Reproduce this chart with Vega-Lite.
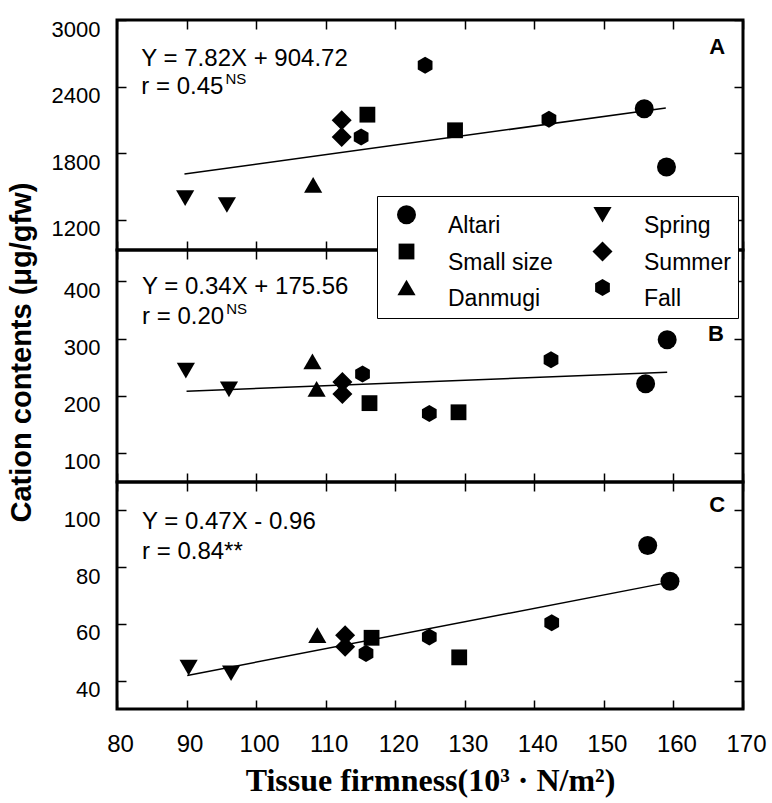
{
  "$schema": "https://vega.github.io/schema/vega-lite/v6.json",
  "padding": {"left": 5, "top": 16, "right": 5, "bottom": 2},
  "background": "white",
  "config": {
    "font": "Liberation Sans",
    "view": {"stroke": "black", "strokeWidth": 3},
    "axis": {
      "grid": false, "domain": false, "tickColor": "black", "tickSize": -9, "tickWidth": 1.5,
      "labelFont": "Liberation Sans", "labelFontSize": 22, "labelColor": "black",
      "labelPadding": 26, "labelFlush": false, "labelOverlap": false, "titleColor": "black", "format": "d"
    },
    "legend": {
      "title": null, "orient": "none", "legendX": 260, "legendY": 176, "columns": 2, "direction": "vertical",
      "fillColor": "white", "strokeColor": "black", "padding": 7, "symbolOffset": 11,
      "labelFontSize": 23, "labelFont": "Liberation Sans", "labelColor": "black", "labelOffset": 30, "labelBaseline": "top",
      "columnPadding": 27, "rowPadding": 0,
      "symbolFillColor": "black", "symbolStrokeColor": "black"
    }
  },
  "datasets": {
    "pts": [
      {"panel": "A", "firmness": 89.8, "cation": 1394, "group": "Spring"},
      {"panel": "A", "firmness": 95.8, "cation": 1331, "group": "Spring"},
      {"panel": "A", "firmness": 108.2, "cation": 1512, "group": "Danmugi"},
      {"panel": "A", "firmness": 112.3, "cation": 2095, "group": "Summer"},
      {"panel": "A", "firmness": 112.3, "cation": 1945, "group": "Summer"},
      {"panel": "A", "firmness": 115.1, "cation": 1945, "group": "Fall"},
      {"panel": "A", "firmness": 116.0, "cation": 2146, "group": "Small size"},
      {"panel": "A", "firmness": 124.3, "cation": 2591, "group": "Fall"},
      {"panel": "A", "firmness": 128.6, "cation": 2005, "group": "Small size"},
      {"panel": "A", "firmness": 142.1, "cation": 2104, "group": "Fall"},
      {"panel": "A", "firmness": 155.8, "cation": 2200, "group": "Altari"},
      {"panel": "A", "firmness": 159.0, "cation": 1674, "group": "Altari"},
      {"panel": "B", "firmness": 89.9, "cation": 244, "group": "Spring"},
      {"panel": "B", "firmness": 96.1, "cation": 211, "group": "Spring"},
      {"panel": "B", "firmness": 108.1, "cation": 260, "group": "Danmugi"},
      {"panel": "B", "firmness": 108.7, "cation": 212, "group": "Danmugi"},
      {"panel": "B", "firmness": 112.4, "cation": 224, "group": "Summer"},
      {"panel": "B", "firmness": 112.4, "cation": 203, "group": "Summer"},
      {"panel": "B", "firmness": 115.3, "cation": 238, "group": "Fall"},
      {"panel": "B", "firmness": 116.3, "cation": 187, "group": "Small size"},
      {"panel": "B", "firmness": 124.9, "cation": 169, "group": "Fall"},
      {"panel": "B", "firmness": 129.1, "cation": 171, "group": "Small size"},
      {"panel": "B", "firmness": 142.4, "cation": 263, "group": "Fall"},
      {"panel": "B", "firmness": 156.0, "cation": 221, "group": "Altari"},
      {"panel": "B", "firmness": 159.1, "cation": 298, "group": "Altari"},
      {"panel": "C", "firmness": 90.3, "cation": 44.6, "group": "Spring"},
      {"panel": "C", "firmness": 96.4, "cation": 42.6, "group": "Spring"},
      {"panel": "C", "firmness": 108.8, "cation": 56.0, "group": "Danmugi"},
      {"panel": "C", "firmness": 112.8, "cation": 56.0, "group": "Summer"},
      {"panel": "C", "firmness": 112.8, "cation": 51.9, "group": "Summer"},
      {"panel": "C", "firmness": 115.8, "cation": 49.6, "group": "Fall"},
      {"panel": "C", "firmness": 116.6, "cation": 55.1, "group": "Small size"},
      {"panel": "C", "firmness": 124.9, "cation": 55.4, "group": "Fall"},
      {"panel": "C", "firmness": 129.2, "cation": 48.2, "group": "Small size"},
      {"panel": "C", "firmness": 142.5, "cation": 60.4, "group": "Fall"},
      {"panel": "C", "firmness": 156.3, "cation": 87.6, "group": "Altari"},
      {"panel": "C", "firmness": 159.5, "cation": 75.0, "group": "Altari"}
    ],
    "fit": [
      {"panel": "A", "firmness": 89.7, "cation": 1611},
      {"panel": "A", "firmness": 158.9, "cation": 2206},
      {"panel": "B", "firmness": 90.0, "cation": 208},
      {"panel": "B", "firmness": 159.1, "cation": 241},
      {"panel": "C", "firmness": 90.1, "cation": 41.8},
      {"panel": "C", "firmness": 158.2, "cation": 74.1}
    ]
  },
  "vconcat": [
    {
      "width": 626, "height": 230,
      "layer": [
        {
          "data": {"name": "fit"},
          "transform": [{"filter": "datum.panel === 'A'"}],
          "mark": {"type": "line", "color": "black", "strokeWidth": 1.5},
          "encoding": {
            "x": {"field": "firmness", "type": "quantitative", "scale": {"domain": [80, 170], "nice": false, "zero": false},
                  "axis": {"orient": "top", "labels": false, "title": null, "values": [80, 90, 100, 110, 120, 130, 140, 150, 160, 170]}},
            "y": {"field": "cation", "type": "quantitative", "scale": {"domain": [925, 3000], "nice": false, "zero": false},
                  "axis": {"orient": "right", "labels": false, "title": null, "values": [1200, 1800, 2400, 3000]}}
          }
        },
        {
          "data": {"name": "pts"},
          "transform": [{"filter": "datum.panel === 'A'"}],
          "mark": {"type": "point", "filled": true, "opacity": 1},
          "encoding": {
            "x": {"field": "firmness", "type": "quantitative", "scale": {"domain": [80, 170], "nice": false, "zero": false},
                  "axis": {"orient": "bottom", "labels": false, "title": null, "values": [80, 90, 100, 110, 120, 130, 140, 150, 160, 170]}},
            "y": {"field": "cation", "type": "quantitative", "scale": {"domain": [925, 3000], "nice": false, "zero": false},
                  "axis": {"orient": "left", "title": null, "values": [1200, 1800, 2400, 3000], "labelOffset": 9}},
            "color": {"value": "black"},
            "shape": {"field": "group", "type": "nominal",
              "scale": {"domain": ["Altari", "Small size", "Danmugi", "Spring", "Summer", "Fall"],
                        "range": ["circle", "square", "triangle-up", "triangle-down", "diamond", "M0,-1L0.866,-0.5L0.866,0.5L0,1L-0.866,0.5L-0.866,-0.5Z"]},
              "legend": {"encode": {"legend": {"update": {"strokeWidth": {"value": 3}}}}}},
            "size": {"field": "group", "type": "nominal",
              "scale": {"type": "ordinal", "domain": ["Altari", "Small size", "Danmugi", "Spring", "Summer", "Fall"],
                        "range": [360, 250, 330, 330, 400, 290]},
              "legend": {"encode": {"legend": {"update": {"strokeWidth": {"value": 3}}}}}}
          }
        },
        {
          "data": {"values": [{}]},
          "mark": {"type": "text", "text": "Y = 7.82X + 904.72", "align": "left", "baseline": "middle", "fontSize": 24, "font": "Liberation Sans", "color": "black"},
          "encoding": {"x": {"datum": 83.5, "type": "quantitative", "axis": null}, "y": {"datum": 2648, "type": "quantitative", "axis": null}}
        },
        {
          "data": {"values": [{}]},
          "mark": {"type": "text", "text": "r = 0.45", "align": "left", "baseline": "middle", "fontSize": 24, "font": "Liberation Sans", "color": "black"},
          "encoding": {"x": {"datum": 83.5, "type": "quantitative", "axis": null}, "y": {"datum": 2396, "type": "quantitative", "axis": null}}
        },
        {
          "data": {"values": [{}]},
          "mark": {"type": "text", "text": "NS", "align": "left", "baseline": "middle", "fontSize": 15, "font": "Liberation Sans", "color": "black"},
          "encoding": {"x": {"datum": 95.6, "type": "quantitative", "axis": null}, "y": {"datum": 2468, "type": "quantitative", "axis": null}}
        },
        {
          "data": {"values": [{}]},
          "mark": {"type": "text", "text": "A", "align": "center", "baseline": "middle", "fontSize": 22, "fontWeight": "bold", "font": "Liberation Sans", "color": "black"},
          "encoding": {"x": {"datum": 166.3, "type": "quantitative", "axis": null}, "y": {"datum": 2756, "type": "quantitative", "axis": null}}
        }
      ],
      "resolve": {"axis": {"x": "independent", "y": "independent"}}
    },
    {
      "width": 626, "height": 232,
      "layer": [
        {
          "data": {"name": "fit"},
          "transform": [{"filter": "datum.panel === 'B'"}],
          "mark": {"type": "line", "color": "black", "strokeWidth": 1.5},
          "encoding": {
            "x": {"field": "firmness", "type": "quantitative", "scale": {"domain": [80, 170], "nice": false, "zero": false},
                  "axis": {"orient": "top", "labels": false, "title": null, "values": [80, 90, 100, 110, 120, 130, 140, 150, 160, 170]}},
            "y": {"field": "cation", "type": "quantitative", "scale": {"domain": [49, 455], "nice": false, "zero": false},
                  "axis": {"orient": "right", "labels": false, "title": null, "values": [100, 200, 300, 400]}}
          }
        },
        {
          "data": {"name": "pts"},
          "transform": [{"filter": "datum.panel === 'B'"}],
          "mark": {"type": "point", "filled": true, "opacity": 1},
          "encoding": {
            "x": {"field": "firmness", "type": "quantitative", "scale": {"domain": [80, 170], "nice": false, "zero": false},
                  "axis": {"orient": "bottom", "labels": false, "title": null, "values": [80, 90, 100, 110, 120, 130, 140, 150, 160, 170]}},
            "y": {"field": "cation", "type": "quantitative", "scale": {"domain": [49, 455], "nice": false, "zero": false},
                  "axis": {"orient": "left", "title": "Cation contents (μg/gfw)", "values": [100, 200, 300, 400], "labelOffset": 9,
                           "titleFont": "Liberation Sans", "titleFontSize": 29, "titleFontWeight": "bold",
                           "titleX": -87, "titleY": 102, "titleBaseline": "alphabetic", "titleAngle": -90, "titleAlign": "center"}},
            "color": {"value": "black"},
            "shape": {"field": "group", "type": "nominal",
              "scale": {"domain": ["Altari", "Small size", "Danmugi", "Spring", "Summer", "Fall"],
                        "range": ["circle", "square", "triangle-up", "triangle-down", "diamond", "M0,-1L0.866,-0.5L0.866,0.5L0,1L-0.866,0.5L-0.866,-0.5Z"]},
              "legend": {"encode": {"legend": {"update": {"strokeWidth": {"value": 3}}}}}},
            "size": {"field": "group", "type": "nominal",
              "scale": {"type": "ordinal", "domain": ["Altari", "Small size", "Danmugi", "Spring", "Summer", "Fall"],
                        "range": [360, 250, 330, 330, 400, 290]},
              "legend": {"encode": {"legend": {"update": {"strokeWidth": {"value": 3}}}}}}
          }
        },
        {
          "data": {"values": [{}]},
          "mark": {"type": "text", "text": "Y = 0.34X + 175.56", "align": "left", "baseline": "middle", "fontSize": 24, "font": "Liberation Sans", "color": "black"},
          "encoding": {"x": {"datum": 83.6, "type": "quantitative", "axis": null}, "y": {"datum": 390, "type": "quantitative", "axis": null}}
        },
        {
          "data": {"values": [{}]},
          "mark": {"type": "text", "text": "r = 0.20", "align": "left", "baseline": "middle", "fontSize": 24, "font": "Liberation Sans", "color": "black"},
          "encoding": {"x": {"datum": 83.6, "type": "quantitative", "axis": null}, "y": {"datum": 337.5, "type": "quantitative", "axis": null}}
        },
        {
          "data": {"values": [{}]},
          "mark": {"type": "text", "text": "NS", "align": "left", "baseline": "middle", "fontSize": 15, "font": "Liberation Sans", "color": "black"},
          "encoding": {"x": {"datum": 95.7, "type": "quantitative", "axis": null}, "y": {"datum": 351.5, "type": "quantitative", "axis": null}}
        },
        {
          "data": {"values": [{}]},
          "mark": {"type": "text", "text": "B", "align": "center", "baseline": "middle", "fontSize": 22, "fontWeight": "bold", "font": "Liberation Sans", "color": "black"},
          "encoding": {"x": {"datum": 166.1, "type": "quantitative", "axis": null}, "y": {"datum": 308, "type": "quantitative", "axis": null}}
        }
      ],
      "resolve": {"axis": {"x": "independent", "y": "independent"}}
    },
    {
      "width": 626, "height": 227,
      "layer": [
        {
          "data": {"name": "fit"},
          "transform": [{"filter": "datum.panel === 'C'"}],
          "mark": {"type": "line", "color": "black", "strokeWidth": 1.5},
          "encoding": {
            "x": {"field": "firmness", "type": "quantitative", "scale": {"domain": [80, 170], "nice": false, "zero": false},
                  "axis": {"orient": "top", "labels": false, "title": null, "values": [80, 90, 100, 110, 120, 130, 140, 150, 160, 170]}},
            "y": {"field": "cation", "type": "quantitative", "scale": {"domain": [30, 110], "nice": false, "zero": false},
                  "axis": {"orient": "right", "labels": false, "title": null, "values": [40, 60, 80, 100]}}
          }
        },
        {
          "data": {"name": "pts"},
          "transform": [{"filter": "datum.panel === 'C'"}],
          "mark": {"type": "point", "filled": true, "opacity": 1},
          "encoding": {
            "x": {"field": "firmness", "type": "quantitative", "scale": {"domain": [80, 170], "nice": false, "zero": false},
                  "axis": {"orient": "bottom", "title": "Tissue firmness(10³ · N/m²)", "values": [80, 90, 100, 110, 120, 130, 140, 150, 160, 170],
                           "labelFontSize": 24, "labelPadding": 32, "labelOffset": 3,
                           "titleFont": "Liberation Serif", "titleFontSize": 32, "titleFontWeight": "bold", "titlePadding": 9}},
            "y": {"field": "cation", "type": "quantitative", "scale": {"domain": [30, 110], "nice": false, "zero": false},
                  "axis": {"orient": "left", "title": null, "values": [40, 60, 80, 100], "labelOffset": 9}},
            "color": {"value": "black"},
            "shape": {"field": "group", "type": "nominal",
              "scale": {"domain": ["Altari", "Small size", "Danmugi", "Spring", "Summer", "Fall"],
                        "range": ["circle", "square", "triangle-up", "triangle-down", "diamond", "M0,-1L0.866,-0.5L0.866,0.5L0,1L-0.866,0.5L-0.866,-0.5Z"]},
              "legend": {"encode": {"legend": {"update": {"strokeWidth": {"value": 3}}}}}},
            "size": {"field": "group", "type": "nominal",
              "scale": {"type": "ordinal", "domain": ["Altari", "Small size", "Danmugi", "Spring", "Summer", "Fall"],
                        "range": [360, 250, 330, 330, 400, 290]},
              "legend": {"encode": {"legend": {"update": {"strokeWidth": {"value": 3}}}}}}
          }
        },
        {
          "data": {"values": [{}]},
          "mark": {"type": "text", "text": "Y = 0.47X - 0.96", "align": "left", "baseline": "middle", "fontSize": 24, "font": "Liberation Sans", "color": "black"},
          "encoding": {"x": {"datum": 83.6, "type": "quantitative", "axis": null}, "y": {"datum": 95.8, "type": "quantitative", "axis": null}}
        },
        {
          "data": {"values": [{}]},
          "mark": {"type": "text", "text": "r = 0.84**", "align": "left", "baseline": "middle", "fontSize": 24, "font": "Liberation Sans", "color": "black"},
          "encoding": {"x": {"datum": 83.6, "type": "quantitative", "axis": null}, "y": {"datum": 85.3, "type": "quantitative", "axis": null}}
        },
        {
          "data": {"values": [{}]},
          "mark": {"type": "text", "text": "C", "align": "center", "baseline": "middle", "fontSize": 22, "fontWeight": "bold", "font": "Liberation Sans", "color": "black"},
          "encoding": {"x": {"datum": 166.3, "type": "quantitative", "axis": null}, "y": {"datum": 101.8, "type": "quantitative", "axis": null}}
        }
      ],
      "resolve": {"axis": {"x": "independent", "y": "independent"}}
    }
  ],
  "spacing": 0,
  "bounds": "flush"
}
